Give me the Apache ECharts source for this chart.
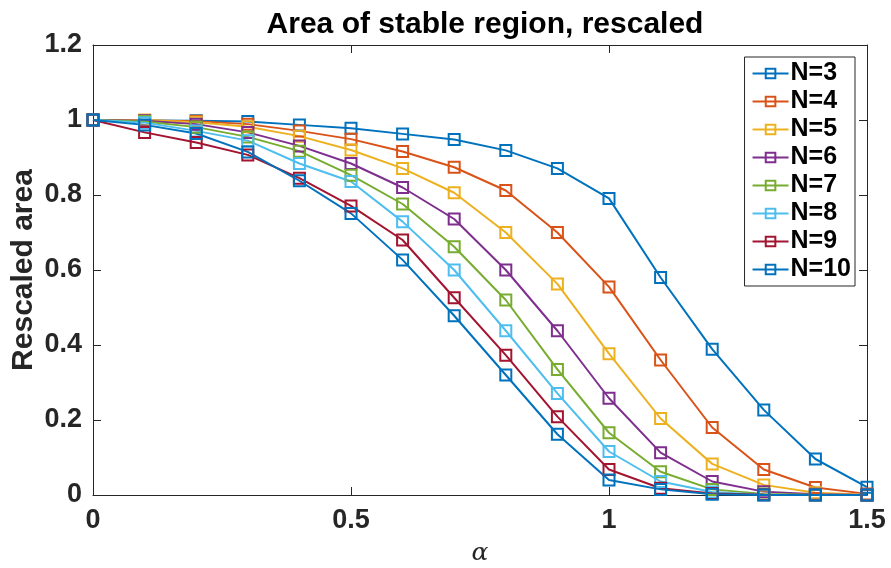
<!DOCTYPE html>
<html>
<head>
<meta charset="utf-8">
<script src="https://cdn.jsdelivr.net/npm/echarts@6/dist/echarts.min.js"></script>
<style>
  html, body { margin: 0; padding: 0; background: #fff; }
  #main { width: 891px; height: 568px; }
</style>
</head>
<body>
<div id="main"></div>
<script>
var alpha = [0, 0.1, 0.2, 0.3, 0.4, 0.5, 0.6, 0.7, 0.8, 0.9, 1.0, 1.1, 1.2, 1.3, 1.4, 1.5];

var n3  = [1, 0.999, 0.998, 0.996, 0.987, 0.978, 0.963, 0.948, 0.919, 0.871, 0.791, 0.580, 0.389, 0.227, 0.096, 0.021];
var n4  = [1, 0.999, 0.997, 0.989, 0.971, 0.949, 0.916, 0.874, 0.812, 0.700, 0.555, 0.360, 0.180, 0.068, 0.020, 0.003];
var n5  = [1, 1.000, 0.994, 0.982, 0.957, 0.920, 0.871, 0.806, 0.700, 0.563, 0.377, 0.204, 0.083, 0.027, 0.006, 0.001];
var n6  = [1, 0.998, 0.989, 0.967, 0.931, 0.884, 0.820, 0.736, 0.600, 0.438, 0.258, 0.113, 0.036, 0.009, 0.002, 0];
var n7  = [1, 0.996, 0.981, 0.955, 0.917, 0.853, 0.776, 0.662, 0.520, 0.335, 0.166, 0.062, 0.015, 0.003, 0.001, 0];
var n8  = [1, 0.993, 0.971, 0.945, 0.884, 0.836, 0.729, 0.600, 0.438, 0.271, 0.116, 0.036, 0.008, 0.001, 0, 0];
var n9  = [1, 0.967, 0.940, 0.907, 0.845, 0.771, 0.680, 0.526, 0.373, 0.209, 0.068, 0.018, 0.004, 0.001, 0, 0];
var n10 = [1, 0.987, 0.964, 0.915, 0.838, 0.751, 0.627, 0.478, 0.320, 0.162, 0.040, 0.015, 0.002, 0, 0, 0];

var names = ['N=3', 'N=4', 'N=5', 'N=6', 'N=7', 'N=8', 'N=9', 'N=10'];
var values = [n3, n4, n5, n6, n7, n8, n9, n10];
var colors = ['#0072BD', '#D95319', '#EDB120', '#7E2F8E', '#77AC30', '#4DBEEE', '#A2142F', '#0072BD'];

var font = 'Liberation Sans, Arial, Helvetica, sans-serif';
var axisColor = '#262626';

var myChart = echarts.init(document.getElementById('main'));

var series = [];
for (var i = 0; i < names.length; i++) {
	var pts = [];
	for (var j = 0; j < alpha.length; j++) {
		pts.push([alpha[j], values[i][j]]);
	}
	series.push({
		name : names[i],
		type : 'line',
		data : pts,
		symbol : 'rect',
		symbolSize : 11,
		showAllSymbol : true,
		animation : false,
		lineStyle : { color : colors[i], width : 2 },
		itemStyle : { color : 'rgba(0,0,0,0)', borderColor : colors[i], borderWidth : 2 }
	});
}

// plain box axis, ticks pointing inward
function frameAxis(pos, min, max, interval) {
	return {
		type : 'value',
		position : pos,
		min : min,
		max : max,
		interval : interval,
		axisLine : { show : true, onZero : false, lineStyle : { color : axisColor, width : 1 } },
		axisTick : { show : true, inside : true, length : 8, lineStyle : { color : axisColor } },
		axisLabel : { show : false },
		splitLine : { show : false }
	};
}

var xMain = frameAxis('bottom', 0, 1.5, 0.5);
xMain.name = 'α';
xMain.nameLocation = 'middle';
xMain.nameGap = 46;
xMain.nameMoveOverlap = false;
xMain.nameTextStyle = { fontFamily : 'DejaVu Serif, serif', fontStyle : 'italic', fontSize : 25, color : axisColor };
xMain.axisLabel = { show : true, margin : 12, fontFamily : font, fontWeight : 'bold', fontSize : 27, color : axisColor };

var yMain = frameAxis('left', 0, 1.2, 0.2);
yMain.name = 'Rescaled area';
yMain.nameLocation = 'middle';
yMain.nameGap = 54;
yMain.nameMoveOverlap = false;
yMain.nameTextStyle = { fontFamily : font, fontWeight : 'bold', fontSize : 30, color : axisColor };
yMain.axisLabel = { show : true, margin : 11, fontFamily : font, fontWeight : 'bold', fontSize : 27, color : axisColor };

myChart.setOption({
	backgroundColor : '#fff',
	title : {
		text : 'Area of stable region, rescaled',
		left : 480,
		textAlign : 'center',
		top : 5,
		textStyle : { fontFamily : font, fontWeight : 'bold', fontSize : 30, color : '#000' }
	},
	legend : {
		data : names,
		orient : 'vertical',
		right : 36,
		top : 57,
		itemWidth : 36,
		itemHeight : 12,
		itemGap : 3,
		padding : [4, 4, 4, 7],
		backgroundColor : '#fff',
		borderColor : axisColor,
		borderWidth : 1,
		borderRadius : 0,
		textStyle : { fontFamily : font, fontWeight : 'bold', fontSize : 25, lineHeight : 22, color : '#000', padding : [0, 0, 0, -3] }
	},
	grid : {
		left : 93,
		right : 24,
		top : 45,
		bottom : 73,
		containLabel : false,
		outerBoundsMode : 'none'
	},
	xAxis : [ xMain, frameAxis('top', 0, 1.5, 0.5) ],
	yAxis : [ yMain, frameAxis('right', 0, 1.2, 0.2) ],
	series : series
});
</script>
</body>
</html>
